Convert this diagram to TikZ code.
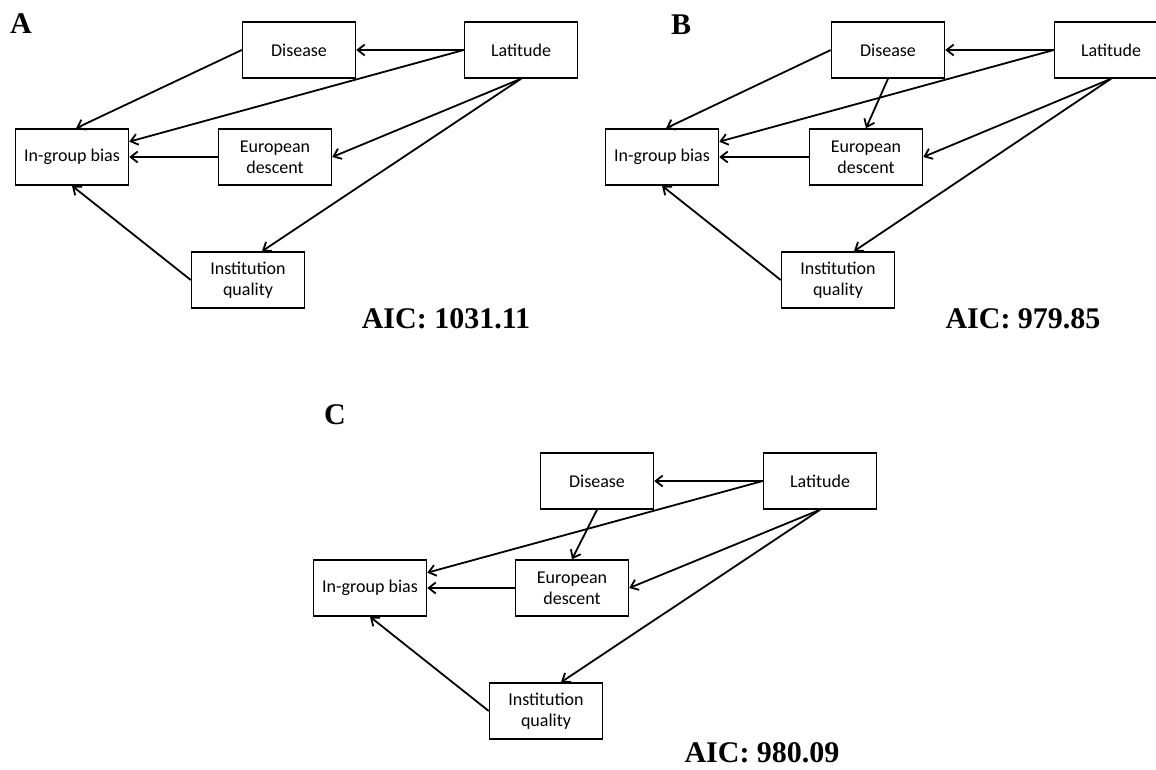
\documentclass[tikz,border=0pt]{standalone}
\usepackage{fontspec}
\setmainfont{Liberation Serif}
\newfontfamily\boxfont{Carlito}
\usetikzlibrary{arrows.meta}
\begin{document}
\begin{tikzpicture}[x=1pt,y=-1pt,
  var/.style={draw, line width=1.5pt, minimum width=113pt, minimum height=56pt,
    inner sep=2pt, align=center, font=\boxfont\fontsize{18}{21}\selectfont},
  link/.style={line width=1.8pt, -{Straight Barb[length=7pt,width=11pt]}},
  panel/.style={font=\fontsize{30}{30}\selectfont\bfseries},
  aic/.style={font=\fontsize{30}{30}\selectfont\bfseries}]
\useasboundingbox (0,0) rectangle (1156,769);

% ---- Model A ----
\node[panel] (labA) at (21,24) {A};
\node[var] (dA) at (299,50) {Disease};
\node[var] (lA) at (521,50) {Latitude};
\node[var] (gA) at (72,157) {In-group bias};
\node[var] (eA) at (275,157) {European\\descent};
\node[var] (iA) at (248,280) {Institution\\quality};
\node[aic] (aicA) at (446,319) {AIC: 1031.11};
\draw[link] (lA.west) -- (dA.east);
\draw[link] (lA.west) -- (gA.15);
\draw[link] (dA.west) -- ([xshift=4pt]gA.north);
\draw[link] (lA.south) -- (eA.east);
\draw[link] (lA.south) -- ([xshift=14pt]iA.north);
\draw[link] (eA.west) -- (gA.east);
\draw[link] (iA.west) -- (gA.south);

% ---- Model B ----
\node[panel] (labB) at (681,25) {B};
\node[var] (dB) at (888,50) {Disease};
\node[var] (lB) at (1111,50) {Latitude};
\node[var] (gB) at (662,157) {In-group bias};
\node[var] (eB) at (866,157) {European\\descent};
\node[var] (iB) at (838,280) {Institution\\quality};
\node[aic] (aicB) at (1023,319) {AIC: 979.85};
\draw[link] (lB.west) -- (dB.east);
\draw[link] (lB.west) -- (gB.15);
\draw[link] (dB.west) -- ([xshift=4pt]gB.north);
\draw[link] (dB.south) -- (eB.north);
\draw[link] (lB.south) -- (eB.east);
\draw[link] (lB.south) -- ([xshift=16pt]iB.north);
\draw[link] (eB.west) -- (gB.east);
\draw[link] (iB.west) -- (gB.south);

% ---- Model C ----
\node[panel] (labC) at (335,415) {C};
\node[var] (dC) at (597,481) {Disease};
\node[var] (lC) at (820,481) {Latitude};
\node[var] (gC) at (370,588) {In-group bias};
\node[var] (eC) at (572,588) {European\\descent};
\node[var] (iC) at (546,711) {Institution\\quality};
\node[aic] (aicC) at (762,753) {AIC: 980.09};
\draw[link] (lC.west) -- (dC.east);
\draw[link] (lC.west) -- (gC.15);
\draw[link] (dC.south) -- (eC.north);
\draw[link] (lC.south) -- (eC.east);
\draw[link] (lC.south) -- ([xshift=15pt]iC.north);
\draw[link] (eC.west) -- (gC.east);
\draw[link] (iC.west) -- (gC.south);
\end{tikzpicture}
\end{document}
